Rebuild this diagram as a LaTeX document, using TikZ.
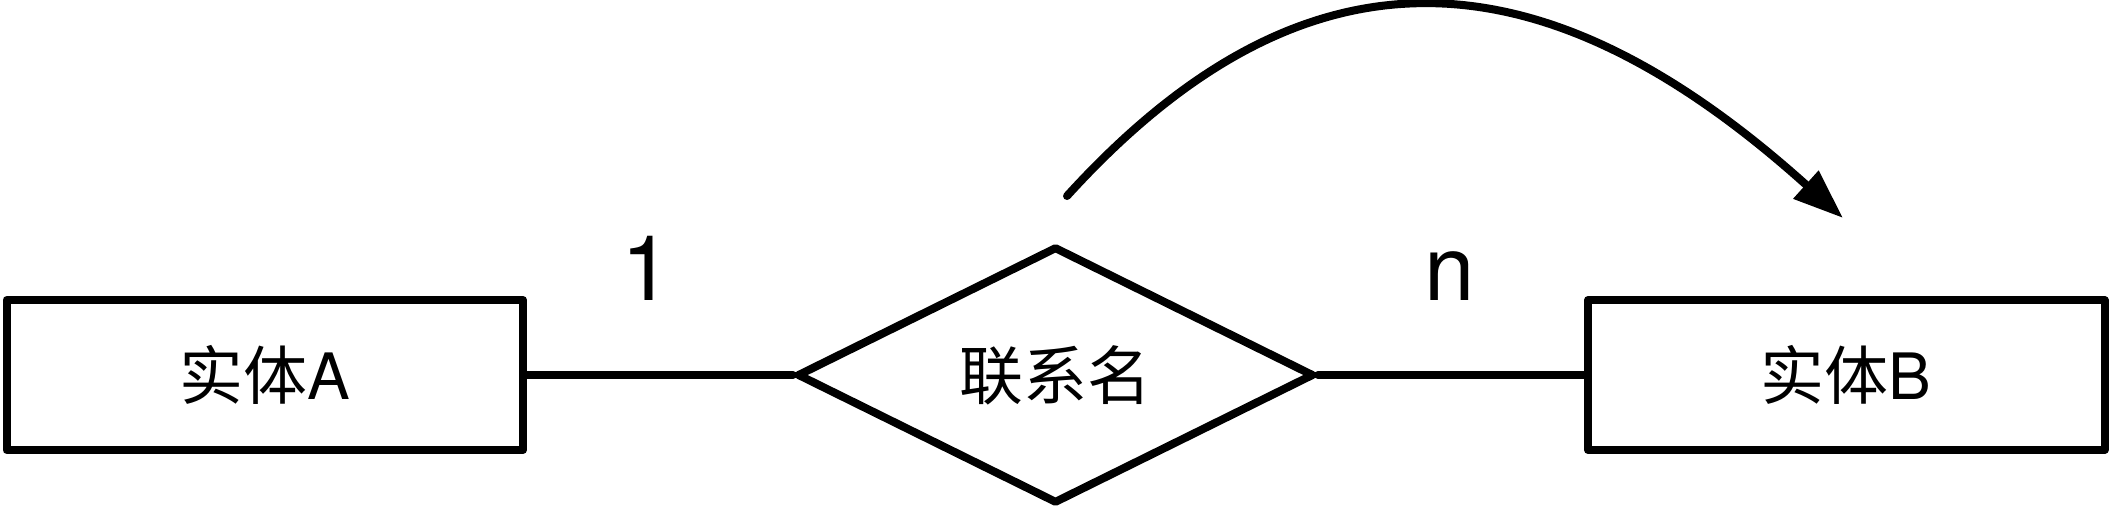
\documentclass[tikz,border=0pt]{standalone}
\usepackage{fontspec}
\setmainfont{TeX Gyre Heros}
\newfontfamily\cjk{Noto Sans CJK SC}
\usetikzlibrary{shapes.geometric, arrows.meta}

\begin{document}
\begin{tikzpicture}[line width=0.08cm, line join=round, line cap=round,
  entity/.style={draw, rectangle, minimum width=5.165cm, minimum height=1.5cm, inner sep=0pt, font=\fontsize{18.2}{22}\selectfont},
  relation/.style={draw, diamond, minimum width=5.17cm, minimum height=2.57cm, inner sep=0pt, font=\fontsize{18.2}{22}\selectfont},
  card/.style={anchor=base, inner sep=0pt, font=\fontsize{25.8}{30}\selectfont}]
\useasboundingbox (0,0) rectangle (21.09,5.10);
%entities and relation
\node[entity] (entA) at (2.6475,1.35) {{\cjk 实体}A};
\node[relation] (rel) at (10.555,1.35) {\cjk 联系名};
\node[entity] (entB) at (18.4625,1.35) {{\cjk 实体}B};
\draw (entA.east) -- (rel.west);
\draw (rel.east) -- (entB.west);
%cardinalities
\node[card] (cardA) at (6.47,2.10) {1};
\node[card] (cardB) at (14.50,2.10) {n};
%curved arrow
\coordinate (arcS) at (10.67,3.14);
\coordinate (arcE) at (18.43,2.92);
\draw[-{Triangle[length=0.5cm, width=0.36cm]}] (arcS) .. controls (13.02,5.725) and (15.38,5.665) .. (arcE);
\end{tikzpicture}
\end{document}
